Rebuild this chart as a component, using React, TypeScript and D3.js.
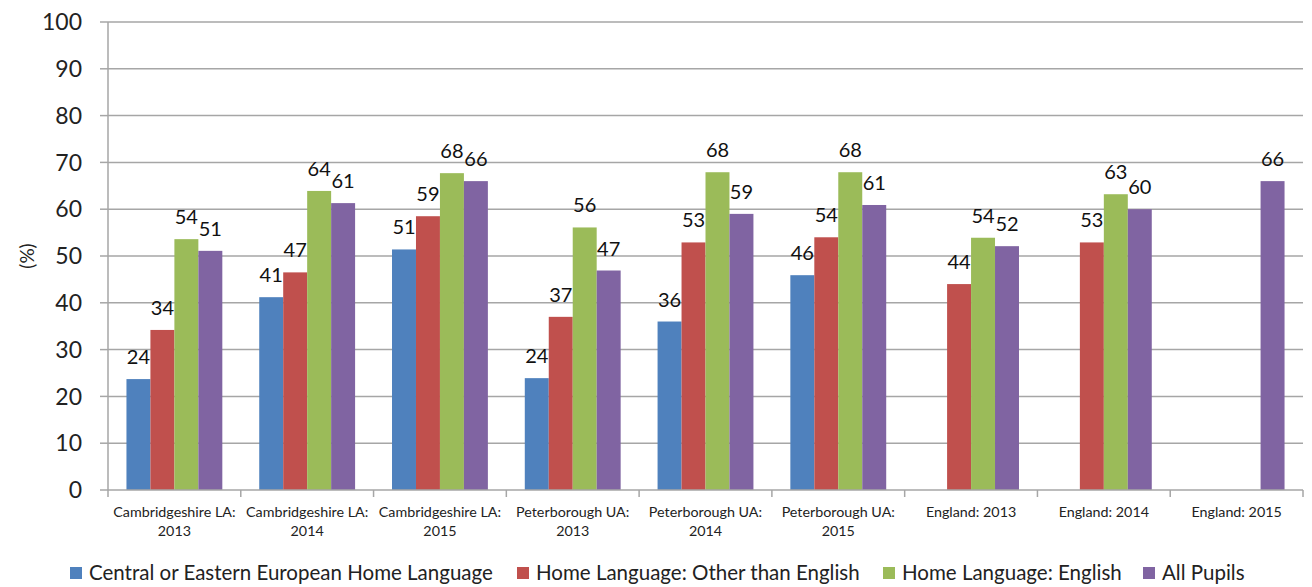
import React from "react";
import * as d3 from "d3";

const categories: string[][] = [
  ["Cambridgeshire LA:", "2013"],
  ["Cambridgeshire LA:", "2014"],
  ["Cambridgeshire LA:", "2015"],
  ["Peterborough UA:", "2013"],
  ["Peterborough UA:", "2014"],
  ["Peterborough UA:", "2015"],
  ["England: 2013"],
  ["England: 2014"],
  ["England: 2015"],
];

const seriesNames = [
  "Central or Eastern European Home Language",
  "Home Language: Other than English",
  "Home Language: English",
  "All Pupils",
];

const centralEastern: (number | null)[] = [23.7, 41.2, 51.4, 23.9, 36.0, 45.9, null, null, null];
const otherThanEnglish: (number | null)[] = [34.2, 46.5, 58.5, 37.0, 52.9, 54.0, 44.0, 52.9, null];
const english: (number | null)[] = [53.6, 63.9, 67.7, 56.1, 67.9, 67.9, 53.9, 63.2, null];
const allPupils: (number | null)[] = [51.1, 61.3, 66.0, 46.9, 59.0, 60.9, 52.1, 60.0, 66.0];

const seriesLabels: (number | null)[][] = [
  [24, 41, 51, 24, 36, 46, null, null, null],
  [34, 47, 59, 37, 53, 54, 44, 53, null],
  [54, 64, 68, 56, 68, 68, 54, 63, null],
  [51, 61, 66, 47, 59, 61, 52, 60, 66],
];

const seriesValues = [centralEastern, otherThanEnglish, english, allPupils];
const colors = ["#4F81BD", "#C0504D", "#9BBB59", "#8064A2"];
const yTicks = [0, 10, 20, 30, 40, 50, 60, 70, 80, 90, 100];

const FONT = "Lato, 'Open Sans', sans-serif";

export default function App() {
  const width = 1312;
  const height = 587;
  const left = 108;
  const right = 1303;
  const top = 22;
  const bottom = 490;

  const catIdx = categories.map((_, i) => String(i));
  const x0 = d3.scaleBand<string>().domain(catIdx).range([left, right]).paddingInner(0.278).paddingOuter(0.139);
  const x1 = d3.scaleBand<string>().domain(seriesNames).range([0, x0.bandwidth()]).padding(0);
  const y = d3.scaleLinear().domain([0, 100]).range([bottom, top]);
  const step = x0.step();
  const catBounds = d3.range(categories.length + 1).map((i) => left + i * step);

  const legendX = [70, 517, 883, 1143];

  return (
    <svg width={width} height={height} style={{ position: "absolute", left: 0, top: 0 }} fontFamily={FONT}>
      <rect width={width} height={height} fill="#fff" />
      {yTicks.map((t) => (
        <g key={t}>
          {t > 0 && <line x1={left} x2={right} y1={y(t)} y2={y(t)} stroke="#A6A6A6" strokeWidth={1.5} />}
          <line x1={left - 8} x2={left} y1={y(t)} y2={y(t)} stroke="#A6A6A6" strokeWidth={1.5} />
          <text x={82} y={y(t)} dy="0.36em" textAnchor="end" fontSize={23} fill="#222">
            {t}
          </text>
        </g>
      ))}
      <text transform={`translate(27,${y(50)}) rotate(-90)`} textAnchor="middle" dy="0.35em" fontSize={19} fill="#222">
        (%)
      </text>
      {seriesValues.map((vals, si) =>
        vals.map((v, ci) =>
          v == null ? null : (
            <rect
              key={`${si}-${ci}`}
              x={(x0(String(ci)) as number) + (x1(seriesNames[si]) as number)}
              y={y(v)}
              width={x1.bandwidth()}
              height={y(0) - y(v)}
              fill={colors[si]}
            />
          )
        )
      )}
      {seriesValues.map((vals, si) =>
        vals.map((v, ci) =>
          v == null ? null : (
            <text
              key={`l${si}-${ci}`}
              x={(x0(String(ci)) as number) + (x1(seriesNames[si]) as number) + x1.bandwidth() / 2}
              y={y(v) - 15}
              textAnchor="middle"
              fontSize={20}
              fill="#111"
            >
              {seriesLabels[si][ci]}
            </text>
          )
        )
      )}
      <line x1={left} x2={left} y1={top} y2={bottom} stroke="#A6A6A6" strokeWidth={1.5} />
      <line x1={left} x2={right} y1={bottom} y2={bottom} stroke="#A6A6A6" strokeWidth={1.5} />
      {catBounds.map((b, i) => (
        <line key={i} x1={b} x2={b} y1={bottom} y2={bottom + 7} stroke="#A6A6A6" strokeWidth={1.5} />
      ))}
      {categories.map((lines, ci) => (
        <text key={ci} textAnchor="middle" fontSize={14.3} fill="#222">
          {lines.map((ln, li) => (
            <tspan key={li} x={(x0(String(ci)) as number) + x0.bandwidth() / 2} y={517 + li * 19}>
              {ln}
            </tspan>
          ))}
        </text>
      ))}
      {seriesNames.map((n, i) => (
        <g key={n}>
          <rect x={legendX[i]} y={567} width={12} height={12} fill={colors[i]} />
          <text x={legendX[i] + 19} y={573} dy="0.36em" fontSize={20.5} fill="#222">
            {n}
          </text>
        </g>
      ))}
    </svg>
  );
}
